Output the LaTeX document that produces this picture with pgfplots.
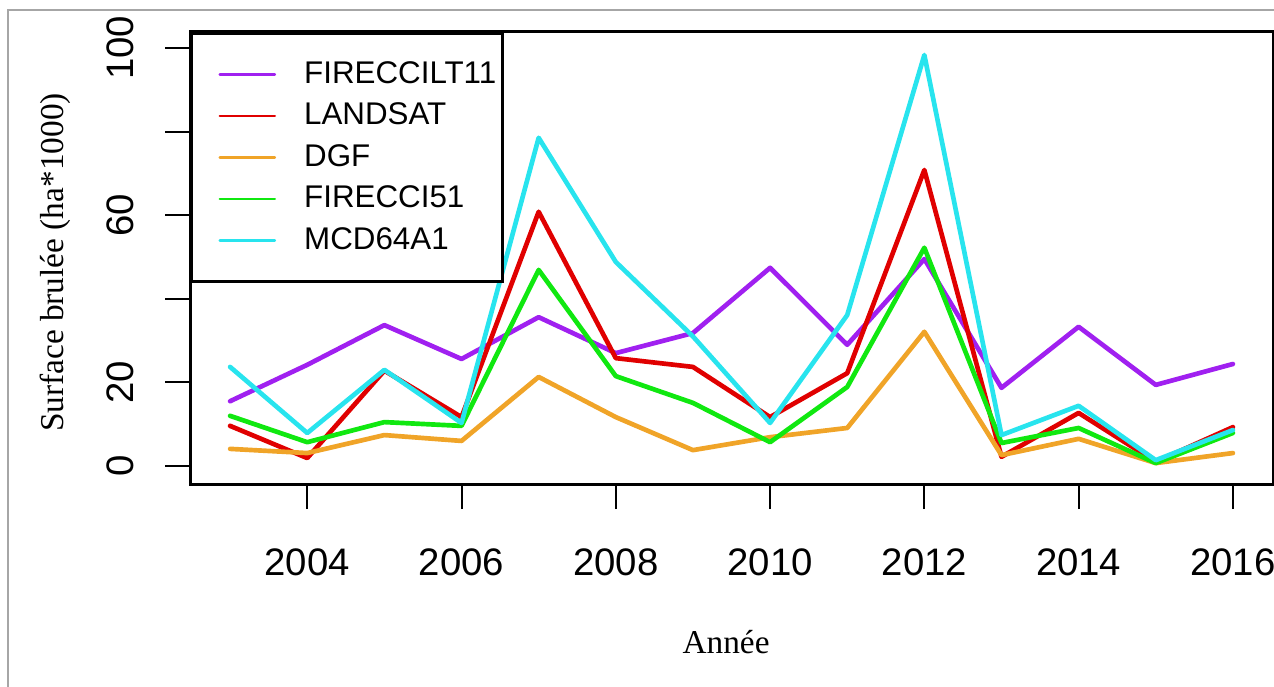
\documentclass[border=0pt]{standalone}
\usepackage{fontspec}
\setmainfont{Liberation Sans}
\newfontfamily\timesf{Liberation Serif}
\usepackage{pgfplots}
\pgfplotsset{compat=1.18}

\definecolor{cpurple}{HTML}{A020F0}
\definecolor{cred}{HTML}{E00000}
\definecolor{corange}{HTML}{F0A428}
\definecolor{cgreen}{HTML}{10E810}
\definecolor{ccyan}{HTML}{28E4EE}

\pgfplotstableread{
year  lt11  landsat dgf  cci51 mcd
2003  15.5  9.6   4.1   12.0  23.7
2004  24.2  1.9   3.1   5.7   7.9
2005  33.7  22.8  7.4   10.5  23.0
2006  25.6  11.7  6.0   9.6   10.3
2007  35.6  60.8  21.3  46.9  78.5
2008  27.0  25.8  11.7  21.5  48.8
2009  31.8  23.7  3.8   15.1  31.0
2010  47.4  11.7  6.9   5.7   10.3
2011  29.0  22.2  9.1   18.9  36.1
2012  49.5  70.8  32.1  52.2  98.3
2013  18.7  2.2   2.6   5.5   7.4
2014  33.3  12.7  6.5   9.1   14.4
2015  19.4  1.0   0.7   0.7   1.4
2016  24.4  9.3   3.1   7.9   8.6
}\burned

\begin{document}
\begin{tikzpicture}
\useasboundingbox (-57pt,-60.6pt) rectangle (325.2pt,145.2pt);
\draw[gray!70, line width=0.5pt] (-54.6pt,-70pt) -- (-54.6pt,142.2pt) -- (330pt,142.2pt);
\begin{axis}[
    at={(0,0)}, anchor=south west,
    scale only axis, width=324.9pt, height=135.6pt,
    xmin=2002.48, xmax=2016.52, ymin=-4.3, ymax=103.8,
    axis line style={line width=0.9pt},
    xtick={2004,2006,...,2016},
    ytick={0,20,40,60,80,100},
    yticklabels={0,20,,60,,100},
    tick align=outside, tick pos=left,
    major tick length=7.5pt,
    every tick/.style={black, line width=0.6pt},
    /pgf/number format/1000 sep={},
    /pgf/number format/assume math mode=true,
    ticklabel style={font=\fontsize{11.5}{13}\selectfont},
    xticklabel shift=8.5pt,
    yticklabel style={rotate=90, anchor=south},
    yticklabel shift=5.7pt,
    xlabel={\timesf Année},
    ylabel={\timesf Surface brulée (ha*1000)},
    label style={font=\fontsize{10.2}{12}\selectfont},
    every axis x label/.style={at={(axis description cs:0.495,-0.35)}, anchor=center},
    every axis y label/.style={at={(axis description cs:-0.1246,0.49)}, rotate=90, anchor=center},
    legend image code/.code={\path (0pt,0pt); \draw[#1, line width=0.8pt] (6pt,0pt) -- (22.5pt,0pt);},
    legend style={at={(0,1)}, anchor=north west, draw=black, line width=0.9pt,
        inner xsep=1.8pt, inner ysep=6.1pt, row sep=0pt, column sep=8.4pt,
        nodes={inner sep=0pt, minimum height=12.45pt},
        font=\fontsize{9.4}{11}\selectfont},
    legend cell align=left,
    every axis plot/.append style={line width=1.4pt, line join=round, line cap=round},
]
\addplot[cpurple] table[x=year, y=lt11] {\burned};
\addplot[cred] table[x=year, y=landsat] {\burned};
\addplot[corange] table[x=year, y=dgf] {\burned};
\addplot[cgreen] table[x=year, y=cci51] {\burned};
\addplot[ccyan] table[x=year, y=mcd] {\burned};
\legend{FIRECCILT11, LANDSAT, DGF, FIRECCI51, MCD64A1}
\end{axis}
\end{tikzpicture}
\end{document}
